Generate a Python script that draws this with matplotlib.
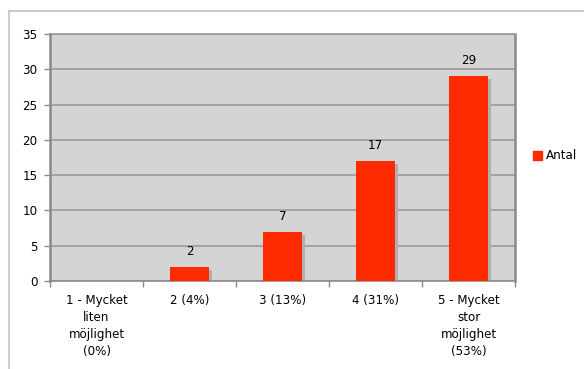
import matplotlib
matplotlib.use('Agg')
import matplotlib.pyplot as plt
import matplotlib.transforms as mtransforms
from matplotlib.patches import Rectangle
from matplotlib.lines import Line2D

categories = ['1 - Mycket\nliten\nmöjlighet\n(0%)', '2 (4%)', '3 (13%)', '4 (31%)',
              '5 - Mycket\nstor\nmöjlighet\n(53%)']
counts = [0, 2, 7, 17, 29]
series_name = 'Antal'
y_ticks = [0, 5, 10, 15, 20, 25, 30, 35]

bar_color = '#ff2a00'
plt.rcParams['font.family'] = 'DejaVu Sans'
plt.rcParams['font.size'] = 8.6

fig = plt.figure(figsize=(5.84, 3.69), dpi=100)
ax = fig.add_axes([50 / 584, 1 - 281 / 369, 465 / 584, 247 / 369])
ax.set_facecolor('#d4d4d4')

x = list(range(len(counts)))
width = 0.41

# drop shadow behind each bar
shadow = mtransforms.offset_copy(ax.transData, fig=fig, x=3, y=-3, units='dots')
ax.bar(x, counts, width=width, color='#b0b0b0', transform=shadow, zorder=2)
ax.bar(x, counts, width=width, color=bar_color, zorder=3)

for xi, c in zip(x, counts):
    if c > 0:
        ax.annotate(str(c), (xi, c), xytext=(0, 6.5), textcoords='offset points',
                    ha='center', va='bottom')

ax.set_xlim(-0.5, len(counts) - 0.5)
ax.set_ylim(0, 35)
ax.set_yticks(y_ticks)
ax.yaxis.grid(True, color='#9a9a9a', linewidth=1.2, zorder=1)
ax.set_axisbelow(True)

ax.set_xticks(x)
ax.set_xticklabels(categories, linespacing=1.4)
ax.tick_params(axis='x', length=0, pad=9.5)
# category separators on the x axis
ax.set_xticks([i - 0.5 for i in range(len(counts) + 1)], minor=True)
ax.tick_params(axis='x', which='minor', length=4, color='#8a8a8a', width=1)
ax.tick_params(axis='y', length=4, color='#8a8a8a', width=1, pad=5)

for side in ['left', 'right']:
    ax.spines[side].set_color('#8a8a8a')
    ax.spines[side].set_linewidth(1.8)
ax.spines['top'].set_color('#9a9a9a')
ax.spines['top'].set_linewidth(1.2)
ax.spines['bottom'].set_color('#8a8a8a')
ax.spines['bottom'].set_linewidth(1.2)

# legend
fig.patches.append(Rectangle((533 / 584, 1 - 160 / 369), 9 / 584, 9 / 369,
                             transform=fig.transFigure, color=bar_color))
fig.text(546 / 584, 1 - 155.5 / 369, series_name, va='center', ha='left')

# outer frame lines
fig.add_artist(Line2D([8.5 / 584, 1], [1 - 10.5 / 369] * 2, color='#cccccc', lw=1.5))
fig.add_artist(Line2D([8.5 / 584] * 2, [0, 1 - 10.5 / 369], color='#cccccc', lw=1.5))

fig.savefig('out.png', dpi=100)
